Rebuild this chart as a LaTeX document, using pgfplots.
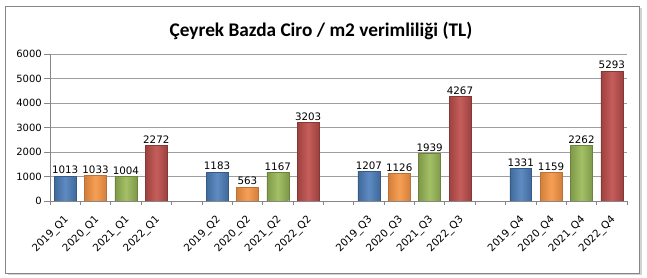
\documentclass[border=0pt]{standalone}
\usepackage{fontspec}
\setmainfont{DejaVu Sans}
\newfontfamily\titlefont{Carlito}
\usepackage{pgfplots}
\pgfplotsset{compat=1.18}
\definecolor{cblue}{HTML}{4F81BD}
\definecolor{corange}{HTML}{F79646}
\definecolor{cgreen}{HTML}{9BBB59}
\definecolor{cred}{HTML}{C0504D}
\definecolor{axgray}{HTML}{868686}
\pgfplotsset{
  bblue/.style={draw=cblue!70!black, left color=cblue!82!black, right color=cblue!82!black, middle color=cblue!92!white},
  borange/.style={draw=corange!75!black, left color=corange!85!black, right color=corange!85!black, middle color=corange!92!white},
  bgreen/.style={draw=cgreen!70!black, left color=cgreen!82!black, right color=cgreen!82!black, middle color=cgreen!92!white},
  bred/.style={draw=cred!70!black, left color=cred!82!black, right color=cred!82!black, middle color=cred!92!white},
}
\begin{document}
\begin{tikzpicture}
\path[use as bounding box] (0,0) rectangle (647pt,278pt);
\fill[gray!35] (7.5pt,3pt) rectangle (641.5pt,269.5pt);
\draw[fill=white, draw=axgray, line width=0.8pt] (5pt,5pt) rectangle (639pt,272pt);
\node[font=\titlefont\bfseries\fontsize{19.3}{23}\selectfont] at (321pt,247pt) {Çeyrek Bazda Ciro / m2 verimliliği (TL)};
\begin{axis}[
  at={(50pt,77pt)}, anchor=south west,
  scale only axis, width=577pt, height=147pt,
  xmin=-0.5, xmax=18.5, ymin=0, ymax=6000,
  ytick={0,1000,...,6000},
  ymajorgrids, grid style={draw=axgray!80, line width=0.6pt},
  axis x line*=bottom, axis y line*=left,
  axis line style={draw=axgray, line width=0.8pt, -},
  tick align=outside, major tick length=6pt, minor tick length=4pt,
  xtick={0,1,2,3,5,6,7,8,10,11,12,13,15,16,17,18},
  xticklabels={2019\_Q1,2020\_Q1,2021\_Q1,2022\_Q1,2019\_Q2,2020\_Q2,2021\_Q2,2022\_Q2,2019\_Q3,2020\_Q3,2021\_Q3,2022\_Q3,2019\_Q4,2020\_Q4,2021\_Q4,2022\_Q4},
  minor xtick={-0.5,0.5,...,18.5},
  major x tick style={draw=none},
  minor x tick style={draw=axgray, line width=0.6pt},
  major y tick style={draw=axgray, line width=0.6pt},
  xticklabel style={xshift=2pt, yshift=-11pt, rotate=45, anchor=east, font=\fontsize{10.3}{12}\selectfont, inner sep=0pt},
  yticklabel style={font=\fontsize{10}{12}\selectfont, inner sep=2pt},
  /pgf/number format/assume math mode=true,
  yticklabel={\pgfmathprintnumber[set thousands separator={}]{\tick}},
  ybar, bar width=0.72, bar shift=0pt,
  nodes near coords,
  every node near coord/.append style={font=\fontsize{10.3}{12}\selectfont, inner sep=2pt, /pgf/number format/set thousands separator={}},
]
% Q1
\addplot[bblue]   coordinates {(0,1013)};
\addplot[borange] coordinates {(1,1033)};
\addplot[bgreen]  coordinates {(2,1004)};
\addplot[bred]    coordinates {(3,2272)};
% Q2
\addplot[bblue]   coordinates {(5,1183)};
\addplot[borange] coordinates {(6,563)};
\addplot[bgreen]  coordinates {(7,1167)};
\addplot[bred]    coordinates {(8,3203)};
% Q3
\addplot[bblue]   coordinates {(10,1207)};
\addplot[borange] coordinates {(11,1126)};
\addplot[bgreen]  coordinates {(12,1939)};
\addplot[bred]    coordinates {(13,4267)};
% Q4
\addplot[bblue]   coordinates {(15,1331)};
\addplot[borange] coordinates {(16,1159)};
\addplot[bgreen]  coordinates {(17,2262)};
\addplot[bred]    coordinates {(18,5293)};
\end{axis}
\end{tikzpicture}
\end{document}
